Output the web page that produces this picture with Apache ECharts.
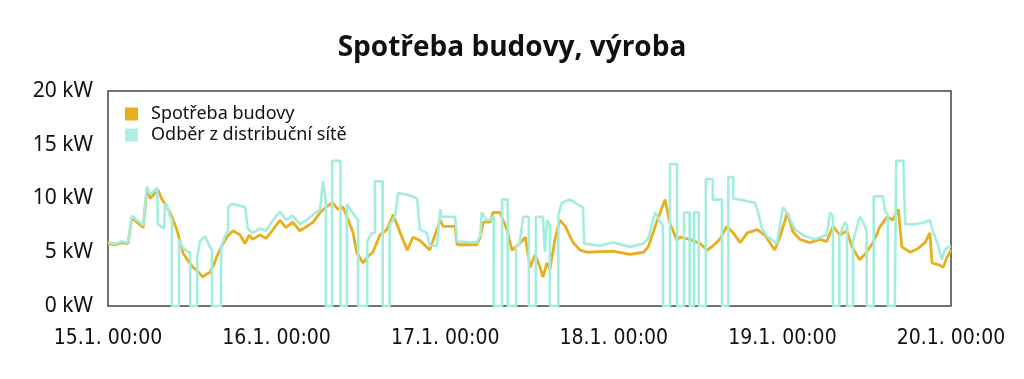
<!DOCTYPE html>
<html>
<head>
<meta charset="utf-8">
<script src="https://cdn.jsdelivr.net/npm/echarts@6/dist/echarts.min.js"></script>
<style>
html,body{margin:0;padding:0;background:#fff;}
#chart{width:1024px;height:379px;}
</style>
</head>
<body>
<div id="chart"></div>
<script>
// time in hours since 15.1. 00:00
var xTickLabels = ['15.1. 00:00','16.1. 00:00','17.1. 00:00','18.1. 00:00','19.1. 00:00','20.1. 00:00'];
var yTickLabels = ['0 kW','5 kW','10 kW','15 kW','20 kW'];

var spotrebaT = [0,1.0,2.0,2.85,3.4,4.1,5.0,5.55,6.0,6.55,7.1,7.7,8.4,9.1,9.8,10.25,10.7,11.4,12.1,12.8,13.5,14.1,14.5,15.1,15.5,16.2,16.9,17.8,18.8,19.5,20.1,20.6,21.6,22.5,23.5,24.5,25.3,26.3,27.3,28.3,29.2,30.2,31.2,32.0,32.7,33.45,34.2,34.9,35.4,36.3,37.0,37.7,38.7,39.7,40.6,41.6,42.6,43.4,44.4,45.8,47.3,47.7,49.4,49.7,52.5,53.0,53.4,54.4,54.8,55.8,56.8,57.5,58.6,59.4,60.1,60.8,61.5,61.9,62.5,62.9,63.6,64.3,65.1,66.2,67.2,68.2,71.9,74.3,76.2,76.9,78.1,79.3,80.0,81.0,81.4,82.8,84.3,85.3,86.1,87.1,88.1,89.0,90.0,91.0,92.4,93.5,94.2,94.9,95.7,96.7,97.5,98.5,99.9,101.4,102.3,103.2,104.2,105.2,105.9,107.0,108.0,108.9,109.9,110.9,111.7,112.5,113.0,114.2,115.2,116.3,117.0,117.3,118.4,118.9,119.4,120];
var spotrebaV = [5.8,5.7,5.9,5.8,8.2,7.8,7.3,10.9,10.0,10.4,10.8,9.9,9.2,8.3,7.1,6.0,4.9,4.2,3.6,3.2,2.7,3.0,3.1,3.9,4.6,5.6,6.4,7.0,6.6,5.8,6.6,6.2,6.6,6.3,7.1,8.0,7.3,7.8,7.0,7.4,7.8,8.7,9.3,9.6,9.0,9.2,8.0,6.8,5.0,4.0,4.6,5.0,6.6,7.1,8.5,6.8,5.2,6.4,6.1,5.2,8.0,7.4,7.4,5.7,5.7,6.4,7.8,7.8,8.7,8.7,7.1,5.2,5.8,6.4,3.6,4.8,3.6,2.7,4.0,3.4,6.1,8.0,7.4,5.9,5.2,5.0,5.1,4.8,5.0,5.5,7.8,9.9,7.7,6.1,6.4,6.2,5.8,5.2,5.6,6.2,7.4,6.8,5.9,6.8,7.1,6.6,5.9,5.2,6.5,8.7,6.9,6.2,5.9,6.2,6.0,7.4,6.6,7.0,5.5,4.3,5.0,5.9,7.4,8.3,8.0,9.0,5.5,5.0,5.3,5.9,6.8,4.0,3.8,3.6,4.5,5.2];

var odberT = [0,1.0,2.0,2.85,3.4,4.1,5.0,5.55,6.0,6.55,7.0,7.1,8.0,8.1,8.4,8.8,9.1,9.1,10.1,10.1,10.7,11.4,11.7,11.7,12.7,12.7,13.1,13.8,14.5,14.8,14.8,16.1,16.1,16.65,17.1,17.1,17.65,19.5,19.9,20.2,20.6,21.6,22.5,23.5,24.5,25.3,26.3,27.3,28.3,29.2,30.2,30.6,31.0,31.0,31.9,31.9,33.1,33.1,34.0,34.0,34.7,35.6,35.6,36.9,36.9,37.6,38.0,38.0,39.1,39.1,40.1,40.1,40.85,41.3,42.3,43.3,44.0,44.4,45.4,45.8,46.8,47.3,47.5,49.4,49.7,52.5,53.0,53.2,53.9,54.4,54.9,54.9,56.1,56.1,56.9,56.9,58.1,58.1,58.6,59.1,59.9,59.9,60.9,60.9,61.9,62.2,62.5,62.9,62.9,64.1,64.1,64.6,65.8,67.2,67.6,67.8,70.0,71.9,74.3,76.2,76.9,77.9,78.6,79.0,79.0,80.0,80.0,81.0,81.0,82.0,82.0,82.8,82.8,83.4,83.4,84.1,84.1,85.1,85.1,86.1,86.1,87.4,87.4,88.3,88.3,89.0,89.0,90.7,92.1,92.5,93.1,93.8,95.2,96.1,96.8,97.8,99.2,100.6,102.3,102.8,103.2,103.2,104.1,104.1,104.9,105.2,105.2,106.05,106.05,107.0,107.5,108.0,108.0,109.0,109.0,110.3,110.6,111.0,111.0,112.0,112.2,113.2,113.5,114.9,116.3,117.0,117.4,118.1,118.7,119.1,119.6,120];
var odberV = [5.9,5.8,6.0,5.9,8.4,8.0,7.5,11.1,10.4,10.7,11.0,7.6,7.2,9.5,9.4,8.4,8.0,0,0,6.2,5.4,5.0,5.0,0,0,4.5,6.0,6.5,5.5,5.2,0,0,5.5,6.5,7.0,9.2,9.5,9.2,7.2,7.0,6.8,7.2,7.0,8.0,8.8,8.0,8.4,7.6,8.0,8.5,9.0,11.6,9.8,0,0,13.5,13.5,0,0,9.5,8.8,8.0,0,0,6.0,6.8,6.8,11.6,11.6,0,0,7.5,8.3,10.5,10.4,10.2,10.0,7.1,6.8,5.6,5.6,9.0,8.3,8.3,6.0,5.9,6.6,8.7,8.0,8.0,8.4,0,0,9.9,9.9,0,0,5.5,5.8,8.3,8.3,0,0,8.3,8.3,5.0,8.0,7.5,0,0,8.5,9.6,9.9,9.3,9.2,5.8,5.6,5.9,5.5,5.8,6.3,8.7,7.8,7.5,0,0,13.2,13.2,0,0,8.7,8.7,0,0,8.7,8.7,0,0,11.8,11.8,9.9,9.9,0,0,12.0,12.0,10.0,9.8,9.6,8.8,7.2,6.5,5.8,9.2,8.5,7.1,6.5,6.2,6.6,8.7,8.3,0,0,6.5,7.8,7.5,0,0,6.0,8.3,7.8,7.0,0,0,10.2,10.2,8.8,8.5,0,0,13.5,13.5,7.6,7.6,7.8,8.0,7.0,5.8,4.3,5.2,5.5,5.5];

function pairs(t, v) { return t.map(function (x, i) { return [x, v[i]]; }); }

var chart = echarts.init(document.getElementById('chart'), null, {renderer: 'canvas'});
chart.setOption({
  animation: false,
  backgroundColor: '#ffffff',
  title: {
    text: 'Spotřeba budovy, výroba',
    left: 'center',
    top: 29,
    textStyle: {fontFamily: 'Open Sans', fontWeight: 'bold', fontSize: 28, color: '#111'}
  },
  legend: {
    orient: 'vertical',
    left: 120,
    top: 99,
    icon: 'rect',
    itemWidth: 13,
    itemHeight: 13,
    itemGap: 1,
    textStyle: {fontFamily: 'Noto Sans', fontSize: 18, color: '#111', lineHeight: 20, padding: [0, 0, 0, 8]},
    data: ['Spotřeba budovy', 'Odběr z distribuční sítě']
  },
  grid: {
    left: 108, right: 73, top: 91, bottom: 73,
    show: true, borderColor: '#444', borderWidth: 1.5, backgroundColor: 'transparent'
  },
  xAxis: {
    type: 'value', min: 0, max: 120, interval: 24,
    axisLine: {show: false}, axisTick: {show: false}, splitLine: {show: false},
    axisLabel: {
      margin: 22,
      fontFamily: '"DejaVu Sans Condensed", sans-serif',
      fontSize: 21, color: '#111',
      formatter: function (v) { return xTickLabels[Math.round(v / 24)]; }
    }
  },
  yAxis: {
    type: 'value', min: 0, max: 20, interval: 5,
    axisLine: {show: false}, axisTick: {show: false}, splitLine: {show: false},
    axisLabel: {
      margin: 15,
      fontFamily: 'Noto Sans', fontSize: 21, color: '#111',
      formatter: function (v) { return yTickLabels[Math.round(v / 5)]; }
    }
  },
  series: [
    {
      name: 'Spotřeba budovy', type: 'line', showSymbol: false,
      color: '#E8AE1C',
      lineStyle: {width: 2.8, color: '#E8AE1C'},
      data: pairs(spotrebaT, spotrebaV)
    },
    {
      name: 'Odběr z distribuční sítě', type: 'line', showSymbol: false,
      color: '#AEEFE2',
      lineStyle: {width: 2.6, color: '#A2EDDD'},
      data: pairs(odberT, odberV)
    }
  ]
});
</script>
</body>
</html>
